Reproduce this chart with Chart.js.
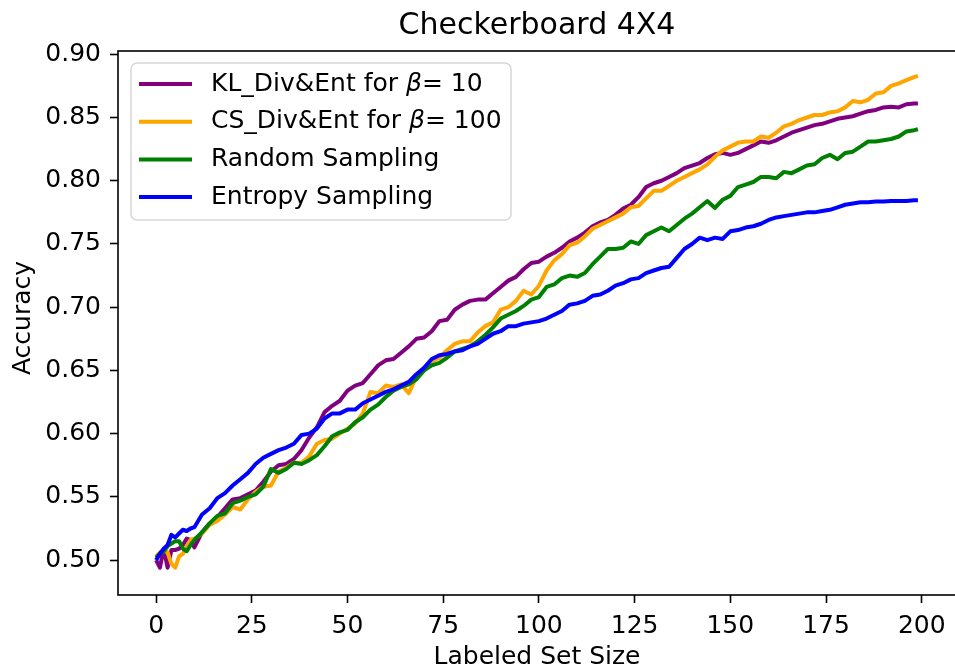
<!DOCTYPE html>
<html>
<head>
<meta charset="utf-8">
<script src="https://cdn.jsdelivr.net/npm/chart.js@4.4.1/dist/chart.umd.min.js"></script>
<style>
  html, body { margin: 0; padding: 0; overflow: hidden; background: #fff; }
  canvas { display: block; }
</style>
</head>
<body>
<canvas id="myChart" width="960" height="672"></canvas>
<script>
// labeled set sizes: every step at the start, then every 2nd, then the last one
const setSize = [0, 1, 2, 3, 4, 5, 6, 7, 8, 9];
for (let s = 10; s < 200; s += 2) setSize.push(s);
setSize.push(199);

const klDivEnt = [
  0.500, 0.494, 0.509, 0.494, 0.508, 0.508, 0.509, 0.512, 0.517, 0.516,
  0.510, 0.522, 0.529, 0.534, 0.541,
  0.548, 0.549, 0.552, 0.555, 0.562, 0.570, 0.575, 0.576, 0.580, 0.587,
  0.597, 0.605, 0.617, 0.622, 0.626, 0.634, 0.638, 0.640, 0.647, 0.654,
  0.658, 0.659, 0.664, 0.669, 0.675, 0.676, 0.681, 0.689, 0.690, 0.698,
  0.702, 0.705, 0.706, 0.706, 0.711, 0.716, 0.721, 0.724, 0.730, 0.735,
  0.736, 0.740, 0.743, 0.747, 0.752, 0.755, 0.759, 0.764, 0.767, 0.769,
  0.773, 0.778, 0.781, 0.787, 0.795, 0.798, 0.800, 0.803, 0.806, 0.810,
  0.812, 0.814, 0.818, 0.821, 0.822, 0.8205, 0.822, 0.825, 0.828, 0.831,
  0.830, 0.832, 0.835, 0.838, 0.840, 0.842, 0.844, 0.845, 0.847, 0.849,
  0.850, 0.851, 0.853, 0.855, 0.856, 0.858, 0.8585, 0.858, 0.8605, 0.861,
  0.861
];

const csDivEnt = [
  0.503, 0.506, 0.508, 0.506, 0.497, 0.494, 0.503, 0.505, 0.511, 0.516,
  0.517, 0.521, 0.528, 0.531, 0.536,
  0.542, 0.540, 0.548, 0.554, 0.558, 0.559, 0.570, 0.573, 0.577, 0.577,
  0.582, 0.592, 0.595, 0.596, 0.600, 0.604, 0.608, 0.616, 0.633, 0.632,
  0.638, 0.637, 0.639, 0.632, 0.645, 0.650, 0.657, 0.660, 0.666, 0.671,
  0.673, 0.673, 0.680, 0.685, 0.688, 0.698, 0.700, 0.705, 0.713, 0.710,
  0.717, 0.729, 0.737, 0.742, 0.749, 0.751, 0.756, 0.762, 0.765, 0.768,
  0.771, 0.774, 0.779, 0.780, 0.786, 0.792, 0.792, 0.796, 0.800, 0.803,
  0.806, 0.809, 0.813, 0.819, 0.824, 0.827, 0.830, 0.831, 0.831, 0.835,
  0.834, 0.838, 0.843, 0.845, 0.848, 0.850, 0.852, 0.852, 0.854, 0.855,
  0.858, 0.863, 0.862, 0.864, 0.869, 0.870, 0.875, 0.877, 0.8795, 0.882,
  0.883
];

const randomSampling = [
  0.502, 0.505, 0.507, 0.511, 0.513, 0.515, 0.515, 0.509, 0.507, 0.512,
  0.516, 0.522, 0.529, 0.535, 0.537,
  0.545, 0.547, 0.550, 0.552, 0.558, 0.572, 0.569, 0.572, 0.577, 0.576,
  0.579, 0.583, 0.590, 0.598, 0.601, 0.603, 0.609, 0.613, 0.619, 0.623,
  0.629, 0.634, 0.637, 0.639, 0.643, 0.650, 0.654, 0.656, 0.660, 0.665,
  0.667, 0.669, 0.673, 0.678, 0.684, 0.691, 0.694, 0.697, 0.701, 0.706,
  0.708, 0.716, 0.718, 0.723, 0.725, 0.724, 0.727, 0.734, 0.740, 0.746,
  0.746, 0.747, 0.752, 0.750, 0.757, 0.760, 0.763, 0.760, 0.765, 0.770,
  0.774, 0.779, 0.784, 0.7785, 0.785, 0.788, 0.795, 0.797, 0.799, 0.803,
  0.803, 0.802, 0.807, 0.806, 0.809, 0.812, 0.813, 0.818, 0.8205, 0.817,
  0.822, 0.823, 0.827, 0.831, 0.831, 0.832, 0.833, 0.835, 0.839, 0.840,
  0.8407
];

const entropySampling = [
  0.500, 0.505, 0.509, 0.512, 0.520, 0.518, 0.521, 0.524, 0.523, 0.525,
  0.526, 0.536, 0.541, 0.549, 0.553,
  0.559, 0.564, 0.569, 0.576, 0.581, 0.584, 0.587, 0.589, 0.592, 0.599,
  0.600, 0.604, 0.612, 0.616, 0.616, 0.619, 0.619, 0.624, 0.627, 0.630,
  0.633, 0.635, 0.638, 0.641, 0.647, 0.652, 0.659, 0.662, 0.663, 0.665,
  0.666, 0.669, 0.671, 0.675, 0.679, 0.681, 0.685, 0.685, 0.687, 0.688,
  0.689, 0.691, 0.694, 0.697, 0.702, 0.703, 0.705, 0.709, 0.710, 0.713,
  0.717, 0.719, 0.722, 0.723, 0.727, 0.729, 0.731, 0.732, 0.739, 0.746,
  0.750, 0.755, 0.753, 0.755, 0.754, 0.760, 0.761, 0.763, 0.764, 0.766,
  0.769, 0.771, 0.772, 0.773, 0.774, 0.775, 0.775, 0.776, 0.777, 0.779,
  0.781, 0.782, 0.783, 0.783, 0.7835, 0.7835, 0.784, 0.784, 0.784, 0.7845,
  0.7845
];

const xTicks = [0, 25, 50, 75, 100, 125, 150, 175, 200];
const yTicks = [0.50, 0.55, 0.60, 0.65, 0.70, 0.75, 0.80, 0.85, 0.90];

// legend text is split so the beta can go in italic
const legendItems = [
  { pre: 'KL_Div&Ent for ', greek: '\u03B2', post: '= 10', color: '#800080' },
  { pre: 'CS_Div&Ent for ', greek: '\u03B2', post: '= 100', color: '#FFA500' },
  { pre: 'Random Sampling', greek: '', post: '', color: '#008000' },
  { pre: 'Entropy Sampling', greek: '', post: '', color: '#0000FF' }
];

const FONT = '"DejaVu Sans", "Liberation Sans", sans-serif';
const LINE_W = 4;

function toPoints(vals) {
  return vals.map((v, i) => ({ x: setSize[i], y: v }));
}

// frame, title, axis titles and the boxed legend
const decorations = {
  id: 'decorations',
  afterDraw(chart) {
    const c = chart.ctx;
    const a = chart.chartArea;
    c.save();

    c.strokeStyle = '#000';
    c.lineWidth = 1.6;
    c.strokeRect(a.left, a.top, a.right - a.left, a.bottom - a.top);

    c.fillStyle = '#000';
    c.textAlign = 'center';
    c.textBaseline = 'middle';
    c.font = '30px ' + FONT;
    c.fillText('Checkerboard 4X4', 537, 26);

    c.font = '25px ' + FONT;
    c.fillText('Labeled Set Size', 537, 657);

    c.save();
    c.translate(23, 318);
    c.rotate(-Math.PI / 2);
    c.fillText('Accuracy', 0, 0);
    c.restore();

    // legend box
    const bx = 131, by = 63, bw = 380, bh = 157, r = 6;
    c.beginPath();
    c.moveTo(bx + r, by);
    c.arcTo(bx + bw, by, bx + bw, by + bh, r);
    c.arcTo(bx + bw, by + bh, bx, by + bh, r);
    c.arcTo(bx, by + bh, bx, by, r);
    c.arcTo(bx, by, bx + bw, by, r);
    c.closePath();
    c.fillStyle = 'rgba(255,255,255,0.8)';
    c.fill();
    c.strokeStyle = '#d6d6d6';
    c.lineWidth = 1.5;
    c.stroke();

    c.textAlign = 'left';
    legendItems.forEach((item, i) => {
      const y = 84 + i * 37.7;
      c.strokeStyle = item.color;
      c.lineWidth = LINE_W;
      c.beginPath();
      c.moveTo(139, y);
      c.lineTo(192, y);
      c.stroke();

      let x = 211;
      c.fillStyle = '#000';
      c.font = '25px ' + FONT;
      c.fillText(item.pre, x, y);
      x += c.measureText(item.pre).width;
      if (item.greek) {
        c.font = 'italic 25px ' + FONT;
        c.fillText(item.greek, x, y);
        x += c.measureText(item.greek).width;
        c.font = '25px ' + FONT;
        c.fillText(item.post, x, y);
      }
    });

    c.restore();
  }
};

const ctx = document.getElementById('myChart');
new Chart(ctx, {
  type: 'line',
  data: {
    datasets: [
      { label: 'KL_Div&Ent for \u03B2= 10', data: toPoints(klDivEnt), borderColor: '#800080', order: 3 },
      { label: 'CS_Div&Ent for \u03B2= 100', data: toPoints(csDivEnt), borderColor: '#FFA500', order: 2 },
      { label: 'Random Sampling', data: toPoints(randomSampling), borderColor: '#008000', order: 1 },
      { label: 'Entropy Sampling', data: toPoints(entropySampling), borderColor: '#0000FF', order: 0 }
    ]
  },
  options: {
    responsive: false,
    animation: false,
    devicePixelRatio: 1,
    layout: { padding: { top: 51, right: 4, left: 0, bottom: 0 } },
    elements: {
      point: { radius: 0 },
      line: { borderWidth: LINE_W, tension: 0, borderJoinStyle: 'round', fill: false }
    },
    plugins: {
      legend: { display: false },
      title: { display: false },
      tooltip: { enabled: false }
    },
    scales: {
      x: {
        type: 'linear',
        min: -9.95,
        max: 208.95,
        afterBuildTicks: (s) => { s.ticks = xTicks.map(v => ({ value: v })); },
        afterFit: (s) => { s.height = 77; },
        border: { display: false },
        grid: { drawOnChartArea: false, drawTicks: true, tickLength: 8, tickColor: '#000', tickWidth: 1.6 },
        ticks: {
          color: '#000',
          font: { family: FONT, size: 25 },
          padding: 8,
          maxRotation: 0,
          autoSkip: false,
          callback: (v) => String(v)
        }
      },
      y: {
        type: 'linear',
        min: 0.4724,
        max: 0.9026,
        afterBuildTicks: (s) => { s.ticks = yTicks.map(v => ({ value: v })); },
        afterFit: (s) => { s.width = 118; },
        border: { display: false },
        grid: { drawOnChartArea: false, drawTicks: true, tickLength: 8, tickColor: '#000', tickWidth: 1.6 },
        ticks: {
          color: '#000',
          font: { family: FONT, size: 25 },
          padding: 9,
          autoSkip: false,
          callback: (v) => v.toFixed(2)
        }
      }
    }
  },
  plugins: [decorations]
});
</script>
</body>
</html>
